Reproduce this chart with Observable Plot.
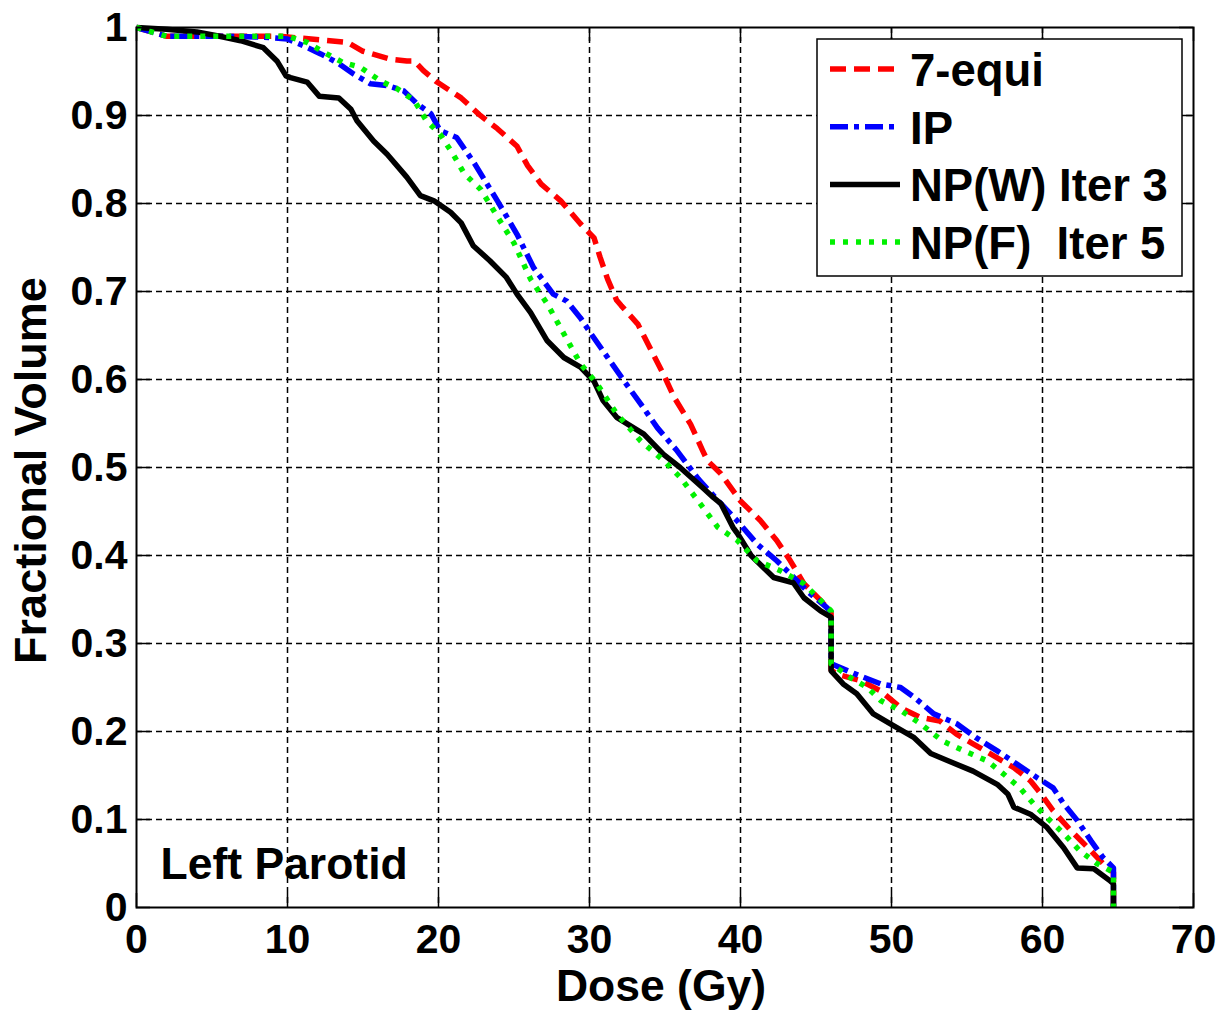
<!DOCTYPE html>
<html>
<head>
<meta charset="utf-8">
<script src="https://cdn.jsdelivr.net/npm/d3@7"></script>
<script src="https://cdn.jsdelivr.net/npm/@observablehq/plot@0.6"></script>
<style>
  html, body { margin: 0; padding: 0; background: #fff; }
  #chart { width: 1225px; height: 1015px; overflow: hidden; }
</style>
</head>
<body>
<div id="chart"></div>
<script>
// ---- Data ----
const xTicks = [0, 10, 20, 30, 40, 50, 60, 70];
const yTicks = [0, 0.1, 0.2, 0.3, 0.4, 0.5, 0.6, 0.7, 0.8, 0.9, 1];
const yTickLabels = ["0", "0.1", "0.2", "0.3", "0.4", "0.5", "0.6", "0.7", "0.8", "0.9", "1"];
const seriesNames = ["7-equi", "IP", "NP(W) Iter 3", "NP(F)  Iter 5"];

const equiDose = [0, 1, 2, 6.2, 9.5, 12.8, 14, 15, 16.8, 17.9, 18.4, 19.0, 19.9, 21.5, 22.7, 23.9, 25.2, 25.9, 26.8, 28.1, 29.4, 30.3, 30.7, 31.2, 31.8, 32.1, 33.2, 34.0, 34.9, 35.6, 36.7, 37.5, 37.8, 38.7, 40.0, 41.3, 42.4, 43.3, 44.2, 45.3, 46.0, 46.0, 46.4, 47.9, 49.3, 50.6, 51.9, 53.2, 54.3, 55.4, 57.0, 58.1, 59.2, 59.9, 60.7, 61.9, 63.0, 64.0, 64.7, 64.7];
const equiVol  = [1, 0.995, 0.99, 0.99, 0.99, 0.985, 0.983, 0.973, 0.964, 0.962, 0.962, 0.951, 0.938, 0.920, 0.901, 0.885, 0.865, 0.843, 0.822, 0.803, 0.777, 0.761, 0.739, 0.714, 0.690, 0.684, 0.663, 0.636, 0.606, 0.580, 0.549, 0.519, 0.508, 0.493, 0.462, 0.440, 0.417, 0.394, 0.368, 0.349, 0.335, 0.270, 0.265, 0.258, 0.246, 0.227, 0.216, 0.212, 0.197, 0.186, 0.170, 0.159, 0.144, 0.129, 0.110, 0.087, 0.068, 0.050, 0.040, 0];

const ipDose = [0, 1, 2, 6, 8.4, 10, 11.1, 12.2, 13.3, 14.4, 15.5, 16.6, 17.7, 18.6, 19.5, 20.1, 21.2, 22.4, 23.9, 25.2, 26.3, 27.6, 28.5, 29.4, 30.1, 31.2, 32.3, 33.4, 34.5, 35.8, 37.2, 38.7, 39.8, 41.1, 42.4, 43.3, 44.4, 45.7, 46.0, 46.0, 47.5, 49.3, 50.6, 51.5, 52.8, 54.3, 55.6, 57.0, 58.3, 59.6, 60.7, 61.4, 62.3, 63.2, 64.0, 64.7, 64.7];
const ipVol  = [1, 0.995, 0.99, 0.99, 0.989, 0.987, 0.979, 0.970, 0.960, 0.947, 0.936, 0.934, 0.928, 0.913, 0.902, 0.883, 0.875, 0.845, 0.803, 0.765, 0.727, 0.697, 0.689, 0.670, 0.652, 0.625, 0.598, 0.572, 0.545, 0.519, 0.487, 0.459, 0.439, 0.413, 0.394, 0.379, 0.360, 0.341, 0.336, 0.277, 0.266, 0.254, 0.250, 0.239, 0.220, 0.209, 0.193, 0.178, 0.163, 0.148, 0.136, 0.118, 0.099, 0.076, 0.057, 0.045, 0];

const npwDose = [0, 2, 4, 5.5, 6.9, 8.4, 9.3, 9.9, 10.2, 11.3, 12.1, 13.4, 14.2, 14.6, 15.7, 16.6, 17.9, 18.8, 19.7, 20.8, 21.5, 22.3, 23.4, 24.5, 25.2, 26.1, 27.2, 28.3, 29.4, 30.3, 30.9, 31.8, 33.6, 34.9, 36.0, 37.5, 38.2, 38.7, 39.5, 39.8, 40.7, 42.2, 43.5, 44.2, 45.3, 46.0, 46.0, 46.8, 47.7, 48.8, 49.9, 51.5, 52.6, 53.7, 55.4, 57.0, 57.7, 58.1, 59.2, 60.3, 61.4, 62.3, 63.4, 64.5, 64.7, 64.7];
const npwVol  = [1, 0.998, 0.995, 0.99, 0.985, 0.977, 0.962, 0.945, 0.943, 0.938, 0.922, 0.920, 0.907, 0.894, 0.871, 0.856, 0.830, 0.809, 0.803, 0.790, 0.778, 0.752, 0.735, 0.716, 0.697, 0.676, 0.644, 0.625, 0.614, 0.598, 0.576, 0.557, 0.538, 0.515, 0.500, 0.477, 0.466, 0.459, 0.432, 0.425, 0.400, 0.375, 0.369, 0.352, 0.337, 0.330, 0.269, 0.254, 0.243, 0.220, 0.209, 0.193, 0.175, 0.167, 0.155, 0.140, 0.129, 0.114, 0.106, 0.091, 0.068, 0.045, 0.044, 0.030, 0.027, 0];

const npfDose = [0, 1, 2, 5, 10, 11.3, 12.6, 13.7, 14.8, 16.2, 17.3, 18.4, 19.2, 20.1, 21.0, 21.7, 22.8, 23.9, 25.0, 26.1, 27.2, 28.3, 29.4, 30.5, 31.8, 33.4, 34.9, 36.0, 37.5, 38.5, 39.8, 41.1, 42.6, 44.2, 46.0, 46.0, 47.3, 48.4, 49.3, 50.6, 51.9, 53.4, 54.8, 56.3, 57.4, 58.5, 59.4, 60.3, 61.4, 62.5, 63.6, 64.7, 64.7];
const npfVol  = [1, 0.995, 0.99, 0.99, 0.99, 0.983, 0.970, 0.960, 0.955, 0.939, 0.930, 0.917, 0.894, 0.879, 0.855, 0.834, 0.816, 0.785, 0.755, 0.714, 0.686, 0.652, 0.618, 0.595, 0.561, 0.530, 0.508, 0.489, 0.455, 0.432, 0.417, 0.394, 0.383, 0.368, 0.337, 0.277, 0.261, 0.250, 0.235, 0.224, 0.209, 0.189, 0.178, 0.167, 0.152, 0.136, 0.118, 0.102, 0.084, 0.064, 0.050, 0.040, 0];

// ---- Build tables ----
const toRows = (d, v) => d.map((x, i) => ({dose: x, vol: v[i]}));
const equiRows = toRows(equiDose, equiVol);
const ipRows = toRows(ipDose, ipVol);
const npwRows = toRows(npwDose, npwVol);
const npfRows = toRows(npfDose, npfVol);

const lineStyles = [
  {stroke: "#ff0000", dash: "16,8"},
  {stroke: "#0000ff", dash: "18,6,5,6"},
  {stroke: "#000000", dash: null},
  {stroke: "#00f000", dash: "5,8"}
];
const tables = [equiRows, ipRows, npwRows, npfRows];

const FONT = "'Liberation Sans', Arial, Helvetica, sans-serif";
const tickLenY = 0.016, tickLenX = 0.93;

const lineMarks = tables.map((t, i) => Plot.line(t, {
  x: "dose", y: "vol", stroke: lineStyles[i].stroke, strokeWidth: 5.5,
  strokeDasharray: lineStyles[i].dash, strokeLinecap: "butt", strokeLinejoin: "round"
}));

const chartSvg = Plot.plot({
  width: 1225, height: 1015,
  marginLeft: 136, marginRight: 32, marginTop: 27, marginBottom: 108,
  style: {fontFamily: FONT, fontWeight: "bold", background: "#fff", color: "#000"},
  x: {domain: [0, 70], ticks: xTicks, label: null},
  y: {domain: [0, 1], ticks: yTicks, label: null},
  marks: [
    Plot.gridX(xTicks.slice(1, -1), {stroke: "#000", strokeOpacity: 1, strokeWidth: 1.5, strokeDasharray: "6,4"}),
    Plot.gridY(yTicks.slice(1, -1), {stroke: "#000", strokeOpacity: 1, strokeWidth: 1.5, strokeDasharray: "6,4"}),
    Plot.ruleX(xTicks, {x: d => d, y1: 0, y2: tickLenY, stroke: "#000", strokeWidth: 1.5}),
    Plot.ruleX(xTicks, {x: d => d, y1: 1 - tickLenY, y2: 1, stroke: "#000", strokeWidth: 1.5}),
    Plot.ruleY(yTicks, {y: d => d, x1: 0, x2: tickLenX, stroke: "#000", strokeWidth: 1.5}),
    Plot.ruleY(yTicks, {y: d => d, x1: 70 - tickLenX, x2: 70, stroke: "#000", strokeWidth: 1.5}),
    ...lineMarks,
    Plot.frame({stroke: "#000", strokeWidth: 2}),
    Plot.axisX(xTicks, {tickSize: 0, tickPadding: 16, fontSize: 41, label: null}),
    Plot.axisY(yTicks, {tickSize: 0, tickPadding: 9, fontSize: 41, label: null,
      tickFormat: (d) => yTickLabels[yTicks.indexOf(d)]}),
    Plot.text(["Dose (Gy)"], {frameAnchor: "bottom", dx: -4, dy: 93, textAnchor: "middle", lineAnchor: "bottom", fontSize: 44.5, fontWeight: "bold"}),
    Plot.text(["Fractional Volume"], {frameAnchor: "left", rotate: -90, dx: -91, dy: 3, textAnchor: "middle", lineAnchor: "bottom", fontSize: 45, fontWeight: "bold"}),
    Plot.text(["Left Parotid"], {frameAnchor: "bottom-left", dx: 24, dy: -29, textAnchor: "start", lineAnchor: "bottom", fontSize: 44.5, fontWeight: "bold"})
  ]
});

// ---- Legend (inside the axes, top-right) ----
const svgSel = d3.select(chartSvg);
const xScale = chartSvg.scale("x"), yScale = chartSvg.scale("y");
const frameRight = xScale.apply(70), frameTop = yScale.apply(1);
const boxW = 365, boxH = 237;
const bx = frameRight - 11 - boxW, by = frameTop + 12;
const legendG = svgSel.append("g").attr("class", "legend");
legendG.append("rect").attr("x", bx).attr("y", by).attr("width", boxW).attr("height", boxH)
  .attr("fill", "#fff").attr("stroke", "#000").attr("stroke-width", 1.5);
seriesNames.forEach((name, i) => {
  const cy = by + 30 + i * 57.7;
  legendG.append("line").attr("x1", bx + 13).attr("x2", bx + 83).attr("y1", cy).attr("y2", cy)
    .attr("stroke", lineStyles[i].stroke).attr("stroke-width", 5.5)
    .attr("stroke-dasharray", lineStyles[i].dash).attr("stroke-linecap", "butt");
  legendG.append("text").attr("x", bx + 93).attr("y", cy + 17)
    .attr("text-anchor", "start")
    .attr("font-size", 45.5).attr("font-weight", "bold").attr("font-family", FONT)
    .attr("fill", "#000").style("white-space", "pre")
    .text(name);
});

document.getElementById("chart").appendChild(chartSvg);
</script>
</body>
</html>
